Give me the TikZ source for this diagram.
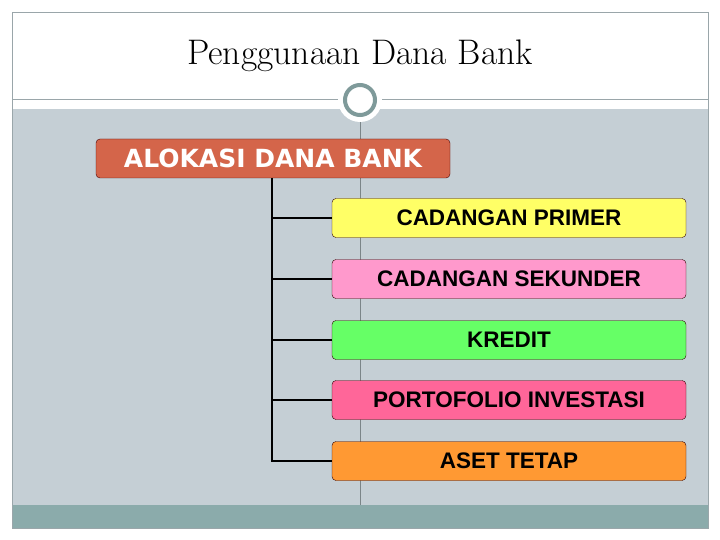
\documentclass[tikz,border=0pt]{standalone}
\usepackage{fontspec}
\setsansfont{Liberation Sans}
\newfontfamily\dejab{DejaVu Sans}
\begin{document}
\begin{tikzpicture}[x=1pt,y=-1pt,
  item/.style={draw=black!80!red,rounded corners=4pt,minimum width=354pt,minimum height=39pt,font=\sffamily\bfseries\fontsize{22.5}{25}\selectfont,text=black,inner sep=0pt},
  link/.style={line width=2.2pt,black}]
\useasboundingbox (0,0) rectangle (720,540);
\definecolor{bodyc}{HTML}{C5CFD5}
\definecolor{barc}{HTML}{8BABAB}
\definecolor{ringc}{HTML}{7F9A9A}
\definecolor{framec}{HTML}{9AA6AA}
\fill[bodyc] (12,109) rectangle (708,505);
\fill[barc] (12,505) rectangle (708,528);
\draw[framec,line width=0.8pt] (12,12) rectangle (708,528);
\draw[framec,line width=1pt] (12,100) -- (708,100);
\draw[framec!80!black,line width=0.8pt] (360,120) -- (360,505);
\node[circle,fill=white,minimum size=44pt,inner sep=0pt] (halo) at (360,100) {};
\node[circle,draw=ringc,line width=4pt,fill=white,minimum size=30pt,inner sep=0pt] (ring) at (360,100) {};
\node (title) at (360,56) {\fontsize{35.5}{38}\selectfont Penggunaan Dana Bank};
\node[draw=black!70!red,rounded corners=4pt,fill={rgb,255:red,212;green,101;blue,74},minimum width=354pt,minimum height=39pt,inner sep=0pt,text=white,font=\dejab\bfseries\fontsize{25}{27}\selectfont] (root) at (273,158.5) {ALOKASI DANA BANK};
\node[item,fill={rgb,255:red,255;green,255;blue,102}] (a) at (509,218) {CADANGAN PRIMER};
\node[item,fill={rgb,255:red,255;green,153;blue,204}] (b) at (509,279) {CADANGAN SEKUNDER};
\node[item,fill={rgb,255:red,102;green,255;blue,102}] (c) at (509,340) {KREDIT};
\node[item,fill={rgb,255:red,255;green,102;blue,153}] (d) at (509,400) {PORTOFOLIO INVESTASI};
\node[item,fill={rgb,255:red,255;green,153;blue,51}] (e) at (509,461) {ASET TETAP};
\coordinate (top) at (272,178);
\draw[link] (top) |- (e.west);
\foreach \n in {a,b,c,d} \draw[link] (272,0 |- \n.west) -- (\n.west);
\end{tikzpicture}
\end{document}
